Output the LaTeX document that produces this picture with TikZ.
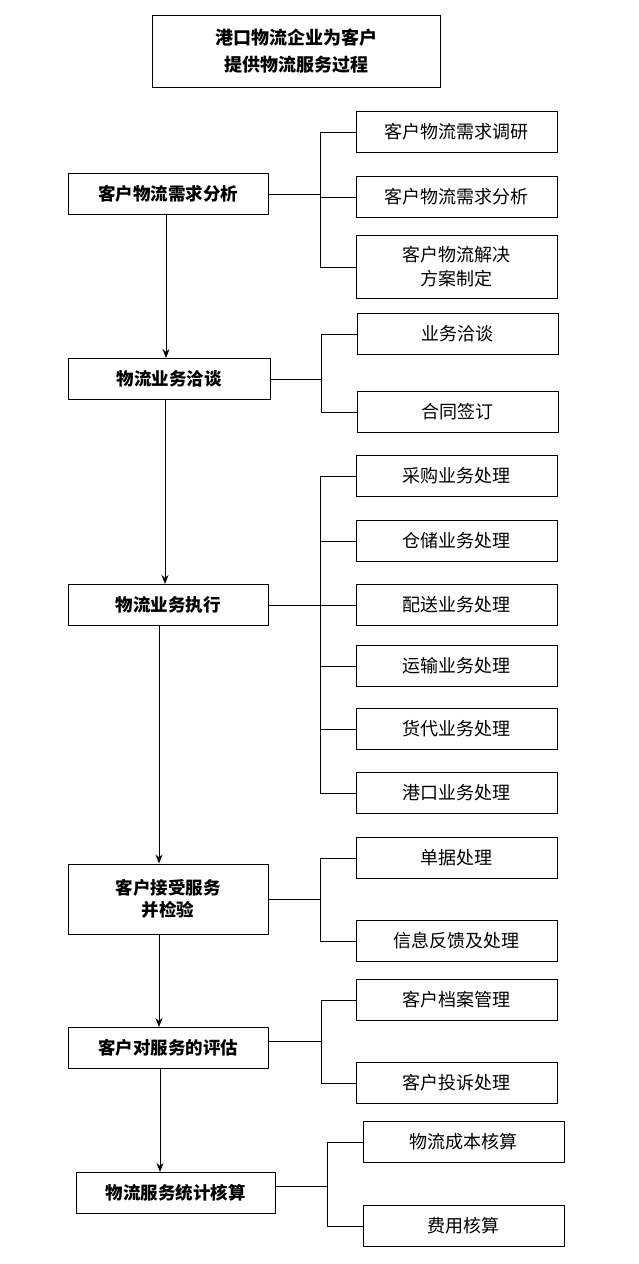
\documentclass[tikz,border=0pt]{standalone}
\usepackage{fontspec}
\setmainfont{Noto Sans CJK SC}
\usetikzlibrary{arrows.meta}
\begin{document}
\begin{tikzpicture}[x=1pt,y=-1pt,
  lbox/.style={draw,line width=1pt,minimum width=200pt,minimum height=41pt,align=center,font=\fontsize{17.5}{22}\selectfont\bfseries,inner sep=0pt},
  rbox/.style={draw,line width=1pt,minimum width=201pt,minimum height=41pt,align=center,font=\fontsize{18}{24}\selectfont,inner sep=0pt},
  ln/.style={line width=0.8pt},
  arr/.style={line width=1pt,-{Stealth[length=9pt,width=7pt]}}]
\useasboundingbox (0,0) rectangle (638,1264);
\node[draw,line width=1pt,minimum width=288pt,minimum height=72pt,align=center,font=\fontsize{18}{27}\selectfont\bfseries,inner sep=0pt] (t) at (296,51) {港口物流企业为客户\\提供物流服务过程};
\node[lbox] (b1) at (168,194) {客户物流需求分析};
\node[lbox,minimum width=202pt] (b2) at (169,379) {物流业务洽谈};
\node[lbox] (b3) at (168,605) {物流业务执行};
\node[lbox,minimum height=70pt] (b4) at (168,899) {客户接受服务\\并检验};
\node[lbox] (b5) at (168,1048) {客户对服务的评估};
\node[lbox,minimum width=199pt] (b6) at (175.5,1193) {物流服务统计核算};
\foreach \n/\y/\t in {r1/132/客户物流需求调研, r2/197/客户物流需求分析, r6/476/采购业务处理, r7/541/仓储业务处理, r8/605/配送业务处理, r9/666/运输业务处理, r10/729/货代业务处理, r11/793/港口业务处理, r12/858/单据处理, r13/941/信息反馈及处理, r14/1000/客户档案管理, r15/1083/客户投诉处理}
  \node[rbox] (\n) at (456.5,\y) {\t};
\node[rbox,minimum height=63pt] (r3) at (456.5,267) {客户物流解决\\方案制定};
\node[rbox] (r4) at (457.5,334) {业务洽谈};
\node[rbox] (r5) at (457.5,412) {合同签订};
\node[rbox] (r16) at (463.5,1142) {物流成本核算};
\node[rbox] (r17) at (463.5,1226) {费用核算};
% brackets
\coordinate (k1) at (320,194);
\draw[ln] (b1.east) -- (k1);
\draw[ln] (r1.west) -- (r1.west -| k1) -- (r3.west -| k1) -- (r3.west);
\draw[ln] (r2.west) -- (r2.west -| k1);
\coordinate (k2) at (321,379);
\draw[ln] (b2.east) -- (k2);
\draw[ln] (r4.west) -- (r4.west -| k2) -- (r5.west -| k2) -- (r5.west);
\coordinate (k3) at (320,605);
\draw[ln] (b3.east) -- (r8.west);
\draw[ln] (r6.west) -- (r6.west -| k3) -- (r11.west -| k3) -- (r11.west);
\foreach \n in {r7,r9,r10} \draw[ln] (\n.west) -- (\n.west -| k3);
\coordinate (k4) at (320,899);
\draw[ln] (b4.east) -- (k4);
\draw[ln] (r12.west) -- (r12.west -| k4) -- (r13.west -| k4) -- (r13.west);
\coordinate (k5) at (321,1041);
\draw[ln] (b5.east |- k5) -- (k5);
\draw[ln] (r14.west) -- (r14.west -| k5) -- (r15.west -| k5) -- (r15.west);
\coordinate (k6) at (327,1186);
\draw[ln] (b6.east |- k6) -- (k6);
\draw[ln] (r16.west) -- (r16.west -| k6) -- (r17.west -| k6) -- (r17.west);
% arrows
\coordinate (a1) at (166,0);
\draw[arr] (b1.south -| a1) -- (b2.north -| a1);
\coordinate (a2) at (165,0);
\draw[arr] (b2.south -| a2) -- (b3.north -| a2);
\coordinate (a3) at (159,0);
\draw[arr] (b3.south -| a3) -- (b4.north -| a3);
\draw[arr] (b4.south -| a3) -- (b5.north -| a3);
\coordinate (a5) at (160,0);
\draw[arr] (b5.south -| a5) -- (b6.north -| a5);
\end{tikzpicture}
\end{document}
